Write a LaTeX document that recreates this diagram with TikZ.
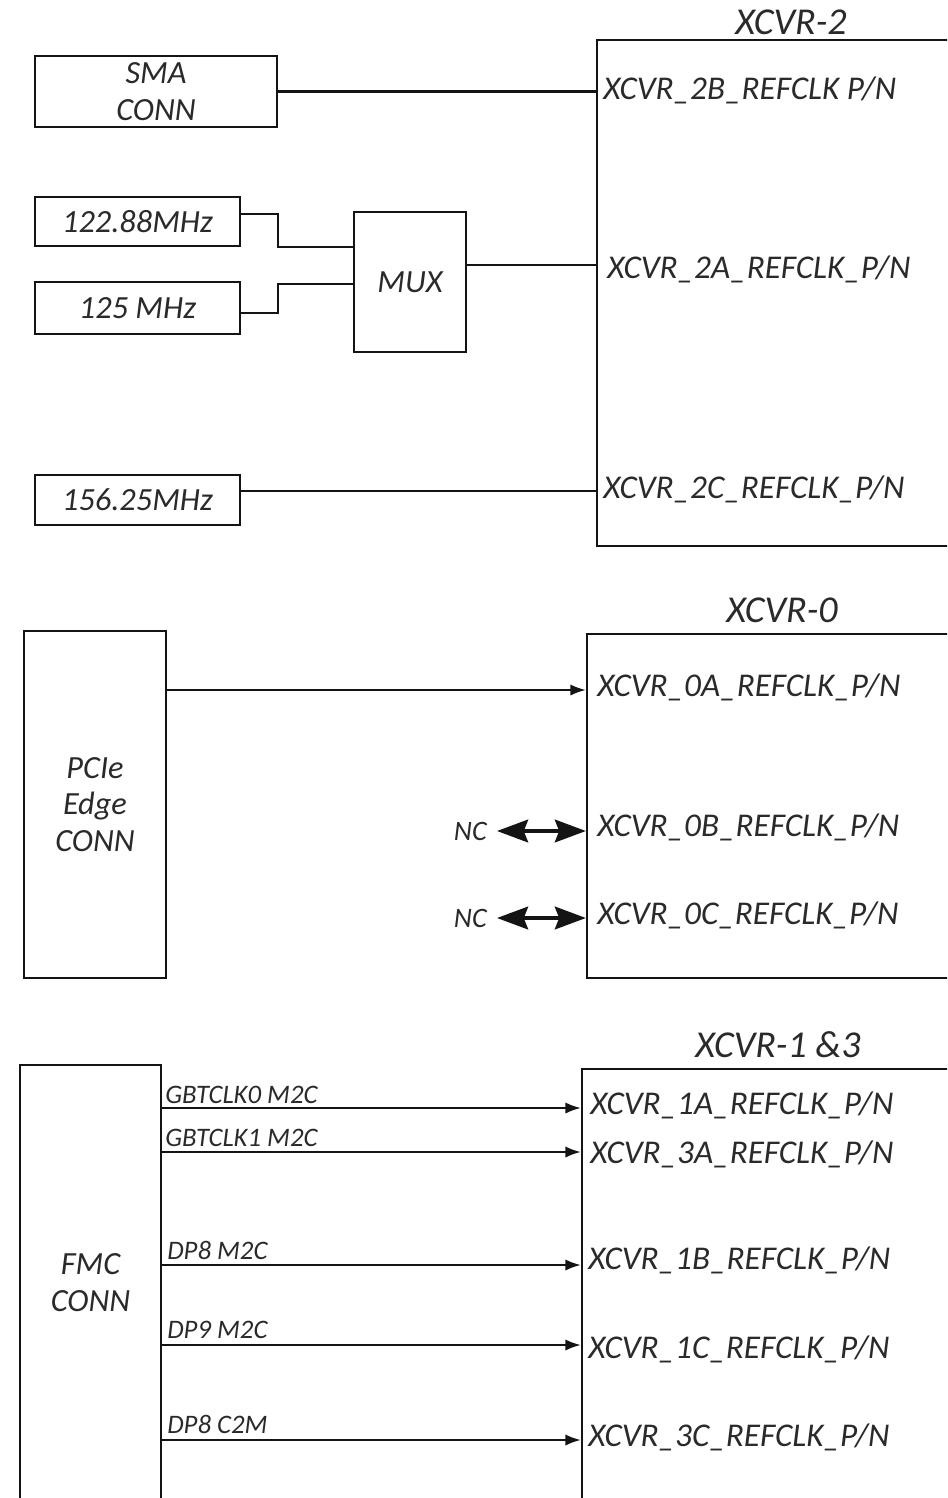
\documentclass[tikz,border=0pt]{standalone}
\usepackage{fontspec}
\setmainfont{Carlito}
\usetikzlibrary{arrows.meta,positioning}
\definecolor{diagline}{HTML}{141414}
\definecolor{diagtext}{HTML}{2A2A2A}
\tikzset{
every picture/.style={line join=miter},
clk box/.style={
  draw=diagline,
  line width=1.5pt,
  align=center,
  inner sep=0pt,
  font=\fontsize{23}{26.2}\selectfont\itshape,
  text=diagtext
},
xcvr box/.style={clk box},
pin label/.style={anchor=base west, inner sep=0pt, font=\fontsize{23.6}{26}\selectfont\itshape, text=diagtext},
sig label/.style={anchor=base west, inner sep=0pt, font=\fontsize{19}{21}\selectfont\itshape, text=diagtext},
title label/.style={inner sep=0pt, font=\fontsize{27}{30}\selectfont\itshape, text=diagtext},
nc label/.style={anchor=east, inner sep=0pt, font=\fontsize{20}{22}\selectfont\itshape, text=diagtext},
clk wire/.style={draw=diagline, line width=1.5pt},
clk arrow/.style={clk wire, -{Latex[length=11pt,width=8pt]}},
nc arrow/.style={draw=diagline, line width=3pt,
  {Stealth[length=22pt,width=16pt,inset=3pt]}-{Stealth[length=22pt,width=16pt,inset=3pt]}}
}
\begin{document}
\begin{tikzpicture}[x=0.025cm, y=-0.025cm]
\clip (0,0) rectangle (947,1498);
\node[xcvr box, minimum width=9.075cm, minimum height=12.65cm] (xcvr2) at (778.5,293) {};
\node[title label] (xcvr2t) at (791,22) {XCVR-2};
\node[clk box, minimum width=6.05cm, minimum height=1.775cm] (sma) at (156,91.5) {SMA\\CONN};
\node[clk box, minimum width=5.125cm, minimum height=1.225cm] (f12288) at (137.5,221.5) {122.88MHz};
\node[clk box, minimum width=5.125cm, minimum height=1.3cm] (f125) at (137.5,308) {125 MHz};
\node[clk box, minimum width=2.8cm, minimum height=3.5cm] (mux) at (410,282) {MUX};
\node[clk box, minimum width=5.125cm, minimum height=1.25cm] (f15625) at (137.5,500) {156.25MHz};
\node[pin label] (p2b) at (603,100) {XCVR\_2B\_REFCLK P/N};
\node[pin label] (p2a) at (607,278) {XCVR\_2A\_REFCLK\_P/N};
\node[pin label] (p2c) at (603,498) {XCVR\_2C\_REFCLK\_P/N};
\draw[clk wire] (sma.east) -- (sma.east -| xcvr2.west);
\draw[clk wire] ([yshift=0.18cm]f12288.east) -- ++(37,0) |- (mux.west |- f12288.south);
\draw[clk wire] ([yshift=-0.125cm]f125.east) -- ++(37,0) |- ([yshift=-0.05cm]mux.west);
\draw[clk wire] ([yshift=0.425cm]mux.east) -- ([yshift=0.425cm]mux.east -| xcvr2.west);
\draw[clk wire] ([yshift=0.225cm]f15625.east) -- ([yshift=0.225cm]f15625.east -| xcvr2.west);

\node[xcvr box, minimum width=9.325cm, minimum height=8.6cm] (xcvr0) at (773.5,806) {};
\node[title label] (xcvr0t) at (782,610) {XCVR-0};
\node[clk box, minimum width=3.55cm, minimum height=8.675cm] (pcie) at (95,804.5) {PCIe\\Edge\\CONN};
\node[pin label] (p0a) at (597,696) {XCVR\_0A\_REFCLK\_P/N};
\node[pin label] (p0b) at (597,836) {XCVR\_0B\_REFCLK\_P/N};
\node[pin label] (p0c) at (597,924) {XCVR\_0C\_REFCLK\_P/N};
\node[nc label] (nc0b) at (487,831) {NC};
\node[nc label] (nc0c) at (487,918) {NC};
\coordinate (r0a) at (0,690);
\draw[clk arrow] (pcie.east |- r0a) -- (xcvr0.west |- r0a);
\draw[nc arrow] ([xshift=0.25cm]nc0b.east) -- (nc0b.east -| xcvr0.west);
\draw[nc arrow] ([xshift=0.25cm]nc0c.east) -- (nc0c.east -| xcvr0.west);

\node[xcvr box, minimum width=9.45cm, minimum height=11.275cm] (xcvr13) at (771,1294.5) {};
\node[title label] (xcvr13t) at (778,1045) {XCVR-1 \&3};
\node[clk box, minimum width=3.525cm, minimum height=10.875cm] (fmc) at (90.5,1282.5) {FMC\\CONN};
\node[pin label] (p1a) at (590,1114) {XCVR\_1A\_REFCLK\_P/N};
\node[pin label] (p3a) at (590,1163) {XCVR\_3A\_REFCLK\_P/N};
\node[pin label] (p1b) at (588,1269) {XCVR\_1B\_REFCLK\_P/N};
\node[pin label] (p1c) at (588,1358) {XCVR\_1C\_REFCLK\_P/N};
\node[pin label] (p3c) at (588,1446) {XCVR\_3C\_REFCLK\_P/N};
\node[sig label] (s1a) at (165,1103) {GBTCLK0 M2C};
\node[sig label] (s3a) at (165,1146) {GBTCLK1 M2C};
\node[sig label] (s1b) at (167,1259) {DP8 M2C};
\node[sig label] (s1c) at (167,1338) {DP9 M2C};
\node[sig label] (s3c) at (167,1433) {DP8 C2M};
\coordinate (r1a) at (0,1108);
\coordinate (r3a) at (0,1152);
\coordinate (r1b) at (0,1265);
\coordinate (r1c) at (0,1345);
\coordinate (r3c) at (0,1440);
\draw[clk arrow] (fmc.east |- r1a) -- (xcvr13.west |- r1a);
\draw[clk arrow] (fmc.east |- r3a) -- (xcvr13.west |- r3a);
\draw[clk arrow] (fmc.east |- r1b) -- (xcvr13.west |- r1b);
\draw[clk arrow] (fmc.east |- r1c) -- (xcvr13.west |- r1c);
\draw[clk arrow] (fmc.east |- r3c) -- (xcvr13.west |- r3c);
\end{tikzpicture}
\end{document}
